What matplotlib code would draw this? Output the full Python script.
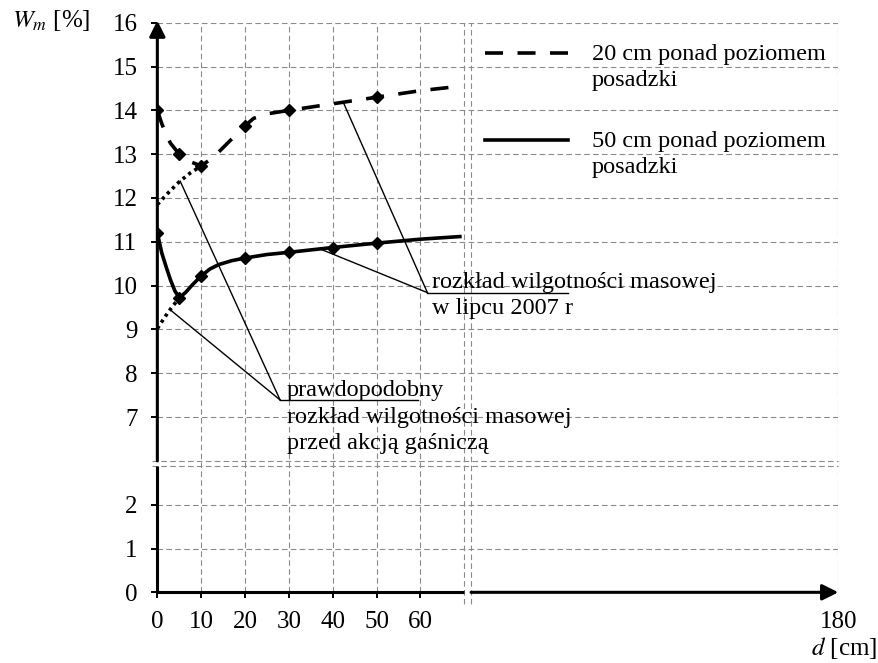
import numpy as np
import matplotlib
matplotlib.use("Agg")
import matplotlib.pyplot as plt
from matplotlib.legend_handler import HandlerLine2D

plt.rcParams["font.family"] = ["Liberation Serif", "DejaVu Serif"]
plt.rcParams["mathtext.fontset"] = "stix"

# ------------------------------------------------------------------
# dane
# ------------------------------------------------------------------
# 20 cm ponad posadzką (linia przerywana)
d_20 = [0, 1, 2, 3, 5, 7, 10, 13, 16, 20, 22, 25, 30, 40, 50, 60, 69]
w_20 = [14.0, 13.7, 13.45, 13.25, 13.0, 12.85, 12.73, 12.95, 13.25, 13.65,
        13.82, 13.92, 14.0, 14.15, 14.3, 14.45, 14.55]
d_20_pts = [0, 5, 10, 20, 30, 50]
w_20_pts = [14.0, 13.0, 12.73, 13.65, 14.0, 14.3]
d_20_est = [0, 2.5, 5, 7.5, 10]
w_20_est = [11.85, 12.12, 12.37, 12.57, 12.73]

# 50 cm ponad posadzką (linia ciągła)
d_50 = [0, 1, 2, 3, 4, 5, 6.5, 8, 10, 12, 14, 17, 20, 25, 30, 40, 50, 60, 69]
w_50 = [11.2, 10.75, 10.43, 10.13, 9.88, 9.72, 9.85, 10.02, 10.22, 10.38,
        10.48, 10.57, 10.63, 10.71, 10.76, 10.87, 10.97, 11.06, 11.12]
d_50_pts = [0, 5, 10, 20, 30, 40, 50]
w_50_pts = [11.2, 9.72, 10.22, 10.63, 10.76, 10.87, 10.97]
d_50_est = [0, 2.5, 5]
w_50_est = [9.02, 9.40, 9.72]

x_ticks = [0, 10, 20, 30, 40, 50, 60, 180]
y_ticks = [0, 1, 2, 7, 8, 9, 10, 11, 12, 13, 14, 15, 16]

labels = ["20 cm ponad poziomem\nposadzki", "50 cm ponad poziomem\nposadzki"]
txt_lipiec = "rozkład wilgotności masowej\nw lipcu 2007 r"
txt_przed = "prawdopodobny\nrozkład wilgotności masowej\nprzed akcją gaśniczą"

# ------------------------------------------------------------------
# osie z przerwami (x: 70..72, y: 2.88..6)
# ------------------------------------------------------------------
XB, XB2, XR = 70.0, 72.0, 0.7756
Y_LO, Y_HI, GAP = 2.88, 6.0, 0.12


def fwd_x(x):
    x = np.asarray(x, float)
    return np.where(x <= XB, x, XB + (x - XB) * XR)


def inv_x(t):
    t = np.asarray(t, float)
    return np.where(t <= XB, t, XB + (t - XB) / XR)


def fwd_y(y):
    y = np.asarray(y, float)
    return np.where(y <= Y_LO, y,
                    np.where(y >= Y_HI, y - (Y_HI - Y_LO) + GAP,
                             Y_LO + (y - Y_LO) * GAP / (Y_HI - Y_LO)))


def inv_y(t):
    t = np.asarray(t, float)
    return np.where(t <= Y_LO, t,
                    np.where(t >= Y_LO + GAP, t + (Y_HI - Y_LO) - GAP,
                             Y_LO + (t - Y_LO) * (Y_HI - Y_LO) / GAP))


class HandlerTopLine(HandlerLine2D):
    """linia legendy na wysokości pierwszego wiersza opisu"""
    def create_artists(self, *args, **kw):
        arts = super().create_artists(*args, **kw)
        for a in arts:
            a.set_ydata(np.asarray(a.get_ydata()) + 10)
        return arts


FS = 17.5
LS = 1.33
GRID = dict(color="#8a8a8a", lw=0.8, ls=(0, (5, 3)))

fig = plt.figure(figsize=(8.79, 6.63), dpi=100)
ax = fig.add_axes([0.179, 0.1066, 0.7747, 0.8591])
ax.set_xscale("function", functions=(fwd_x, inv_x))
ax.set_yscale("function", functions=(fwd_y, inv_y))
ax.set_xlim(0, 180)
ax.set_ylim(0, 16)
for s in ax.spines.values():
    s.set_visible(False)

ax.set_xticks(x_ticks)
ax.set_xticklabels([str(v) for v in x_ticks])
ax.set_yticks(y_ticks)
ax.set_yticklabels([str(v) for v in y_ticks])
ax.minorticks_off()
ax.tick_params(direction="out", length=4.3, width=1.4, labelsize=18)
ax.tick_params(axis="x", pad=9)
ax.tick_params(axis="y", pad=10)
ax.xaxis.get_major_ticks()[-1].tick1line.set_visible(False)
ax.grid(True, **GRID)
ax.xaxis.get_major_ticks()[0].gridline.set_visible(False)
ax.yaxis.get_major_ticks()[0].gridline.set_visible(False)

# linie przerw
for xb in (XB, XB2):
    ax.plot([xb, xb], [-0.27, 16], clip_on=False, zorder=1, **GRID)
for yb in (Y_LO, Y_HI):
    ax.plot([-1.2, 180], [yb, yb], clip_on=False, zorder=1, **GRID)

# osie ze strzałkami
AX = dict(color="k", lw=2.2)
ax.plot([0, XB], [0, 0], clip_on=False, solid_capstyle="butt", zorder=4, **AX)
ax.plot([0, 0], [0, Y_LO], clip_on=False, solid_capstyle="butt", zorder=4, **AX)
ax.annotate("", xy=(180, 0), xytext=(XB2, 0), annotation_clip=False,
            arrowprops=dict(arrowstyle="-|>", shrinkA=0, shrinkB=0,
                            mutation_scale=24, **AX), zorder=4)
ax.annotate("", xy=(0, 16.05), xytext=(0, Y_HI), annotation_clip=False,
            arrowprops=dict(arrowstyle="-|>", shrinkA=0, shrinkB=0,
                            mutation_scale=24, **AX), zorder=4)

# krzywe
LW = 2.6
l20, = ax.plot(d_20, w_20, color="k", lw=LW, ls=(0, (5, 4)), zorder=5)
ax.plot(d_20_pts, w_20_pts, "D", color="k", ms=6.5, zorder=6)
ax.plot(d_20_est, w_20_est, color="k", lw=LW, ls=(0, (0.9, 1.1)), zorder=5)
l50, = ax.plot(d_50, w_50, color="k", lw=LW, zorder=5)
ax.plot(d_50_pts, w_50_pts, "D", color="k", ms=6.5, zorder=6)
ax.plot(d_50_est, w_50_est, color="k", lw=LW, ls=(0, (0.9, 1.1)), zorder=5)

leg = ax.legend([l20, l50], labels, loc="upper left", bbox_to_anchor=(0.481, 0.963),
                frameon=False, handlelength=3.4, handletextpad=1.0,
                labelspacing=1.65, borderpad=0, borderaxespad=0, fontsize=FS,
                handler_map={l20: HandlerTopLine(), l50: HandlerTopLine()})
for t in leg.get_texts():
    t.set_linespacing(LS)

# opisy z odnośnikami
THIN = dict(color="k", lw=1.0, zorder=3)
vx, vy = 61.6, 9.84
for xs, ys, xt in ((d_20, w_20, 42.4), (d_50, w_50, 37.1)):
    ax.plot([vx, xt], [vy, np.interp(xt, xs, ys)], **THIN)
ax.plot([vx, 100.5], [vy, vy], clip_on=False, **THIN)
ax.text(62.6, 10.32, txt_lipiec, fontsize=FS, va="top", ha="left",
        linespacing=LS, zorder=4)

vx, vy = 28.0, 7.39
for xs, ys, xt in ((d_20_est, w_20_est, 5.2), (d_50_est, w_50_est, 2.9)):
    ax.plot([vx, xt], [vy, np.interp(xt, xs, ys)], **THIN)
ax.plot([vx, 59.4], [vy, vy], **THIN)
ax.text(29.5, 7.84, txt_przed, fontsize=FS, va="top", ha="left",
        linespacing=LS, zorder=4)

fig.text(0.0137, 0.959, r"$W_m$ [%]", fontsize=18, va="baseline", ha="left")
fig.text(0.998, 0.012, r"$d$ [cm]", fontsize=18, va="baseline", ha="right")

fig.savefig("out.png", dpi=100, facecolor="white")
